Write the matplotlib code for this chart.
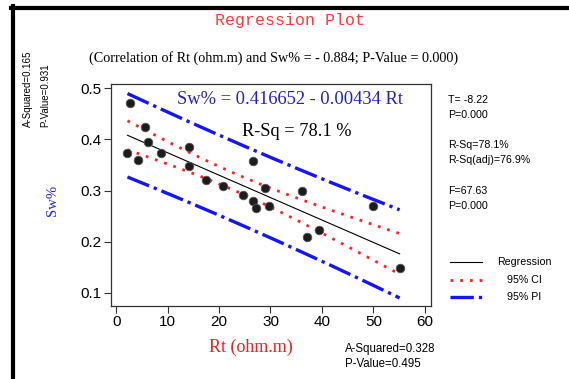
import numpy as np
import matplotlib
matplotlib.use("Agg")
import matplotlib.pyplot as plt
from matplotlib.lines import Line2D

# Rt (ohm.m) vs Sw%
rt = [2.2, 2.7, 4.2, 5.6, 6.2, 8.7, 14.1, 14.1, 17.5, 20.7, 24.7,
      26.6, 26.6, 27.2, 29.0, 29.8, 36.2, 37.1, 39.4, 49.9, 55.1]
sw = [0.374, 0.471, 0.360, 0.425, 0.395, 0.374, 0.385, 0.347, 0.320, 0.309, 0.291,
      0.358, 0.280, 0.265, 0.304, 0.270, 0.299, 0.209, 0.223, 0.270, 0.149]
x_ticks = [0, 10, 20, 30, 40, 50, 60]
y_ticks = [0.1, 0.2, 0.3, 0.4, 0.5]
side_stats = ["T= -8.22", "P=0.000", "", "R-Sq=78.1%", "R-Sq(adj)=76.9%", "", "F=67.63", "P=0.000"]

W, H = 569, 379


def px(x, y):
    return x / W, 1 - y / H


x = np.array(rt)
y = np.array(sw)
n = len(x)
b1, b0 = np.polyfit(x, y, 1)
resid = y - (b0 + b1 * x)
s = np.sqrt(np.sum(resid ** 2) / (n - 2))
sxx = np.sum((x - x.mean()) ** 2)
t975 = 2.093  # t(0.975, 19 df)

xf = np.linspace(x.min(), x.max(), 200)
yf = b0 + b1 * xf
ci = t975 * s * np.sqrt(1 / n + (xf - x.mean()) ** 2 / sxx)
pi = t975 * s * np.sqrt(1 + 1 / n + (xf - x.mean()) ** 2 / sxx)

fig = plt.figure(figsize=(W / 100, H / 100), dpi=100)
fig.patch.set_facecolor("white")
ax = fig.add_axes([111 / W, 1 - 306 / H, 320 / W, 222 / H])

blue = "#1414ff"
red = "#ff2020"
ci_ls = (0, (1, 2.5))
pi_ls = (0, (7, 1.5, 1, 1.5))
ax.plot(xf, yf, color="black", lw=0.8)
ax.plot(xf, yf + ci, color=red, lw=2.0, ls=ci_ls)
ax.plot(xf, yf - ci, color=red, lw=2.0, ls=ci_ls)
ax.plot(xf, yf + pi, color=blue, lw=2.4, ls=pi_ls)
ax.plot(xf, yf - pi, color=blue, lw=2.4, ls=pi_ls)
ax.scatter(x, y, s=38, color="#1c1c1c", edgecolor="#555555", linewidth=0.6, zorder=3)

ax.set_xlim(-1.0, 61.2)
ax.set_ylim(0.0746, 0.508)
ax.set_xticks(x_ticks)
ax.set_yticks(y_ticks)
ax.set_yticklabels([f"{v:.1f}" for v in y_ticks])
ax.tick_params(direction="out", length=5, width=0.8, pad=1.5, labelsize=11, color="#333333")
for sp in ax.spines.values():
    sp.set_color("#333333")
    sp.set_linewidth(0.9)
for lab in ax.get_xticklabels() + ax.get_yticklabels():
    lab.set_fontfamily("Liberation Sans")

fig.text(*px(290, 99), "Sw% = 0.416652 - 0.00434 Rt", ha="center", va="center",
         fontsize=13.3, family="Liberation Serif", color="#2020cc")
fig.text(*px(297, 131), "R-Sq = 78.1 %", ha="center", va="center",
         fontsize=13.2, family="Liberation Serif", color="black")

# frame
fig.add_artist(Line2D([11 / W, 1], [1 - 8 / H, 1 - 8 / H], transform=fig.transFigure, color="black", lw=3))
fig.add_artist(Line2D([13 / W, 13 / W], [0, 1 - 6 / H], transform=fig.transFigure, color="black", lw=3))

fig.text(*px(290, 20), "Regression Plot", ha="center", va="center",
         fontsize=12, family="Liberation Mono", color="#ff3a3a")
fig.text(*px(274, 58), "(Correlation of Rt (ohm.m) and Sw% = - 0.884; P-Value = 0.000)",
         ha="center", va="center", fontsize=10.2, family="Liberation Serif")

fig.text(*px(251, 347), "Rt (ohm.m)", ha="center", va="center", fontsize=13,
         family="Liberation Serif", color="#ff1a1a")
fig.text(*px(52, 200), "Sw%", ha="center", va="center", rotation=90, fontsize=10.5,
         family="Liberation Serif", color="#2020ee")

fig.text(*px(28, 127), "A-Squared=0.165", ha="center", va="bottom", rotation=90,
         fontsize=7, family="Liberation Sans")
fig.text(*px(45, 127), "P-Value=0.931", ha="center", va="bottom", rotation=90,
         fontsize=7, family="Liberation Sans")
fig.text(*px(345, 349), "A-Squared=0.328", ha="left", va="center", fontsize=8.3, family="Liberation Sans")
fig.text(*px(345, 364), "P-Value=0.495", ha="left", va="center", fontsize=8.3, family="Liberation Sans")

for i, line in enumerate(side_stats):
    if line:
        fig.text(*px(448, 100 + i * 15.1), line, ha="left", va="center",
                 fontsize=7.7, family="Liberation Sans")

# legend
leg = [("Regression", "black", 0.8, "-", 262),
       ("95% CI", red, 2.0, ci_ls, 280),
       ("95% PI", blue, 2.4, pi_ls, 297)]
for label, col, lw, ls, yy in leg:
    fig.add_artist(Line2D([450 / W, 482 / W], [1 - yy / H] * 2, transform=fig.transFigure,
                          color=col, lw=lw, ls=ls))
    fig.text(*px(524, yy), label, ha="center", va="center", fontsize=7.7, family="Liberation Sans")

fig.savefig("out.png", dpi=100, facecolor="white")
